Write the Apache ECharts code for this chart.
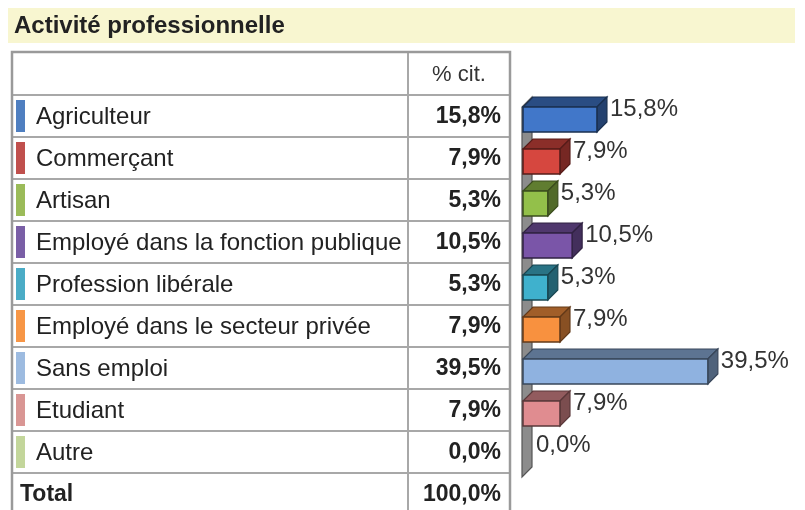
<!DOCTYPE html>
<html>
<head>
<meta charset="utf-8">
<script src="https://cdn.jsdelivr.net/npm/echarts@6/dist/echarts.min.js"></script>
<style>
  html, body { margin: 0; padding: 0; background: #ffffff; }
  #chart { width: 805px; height: 510px; }
</style>
</head>
<body>
<div id="chart"></div>
<script>
// Survey answers: professional activity, share of citations (%)
const title = 'Activité professionnelle';
const columnHeader = '% cit.';
const totalLabel = 'Total';
const categories = [
  'Agriculteur',
  'Commerçant',
  'Artisan',
  'Employé dans la fonction publique',
  'Profession libérale',
  'Employé dans le secteur privée',
  'Sans emploi',
  'Etudiant',
  'Autre'
];
const values = [15.8, 7.9, 5.3, 10.5, 5.3, 7.9, 39.5, 7.9, 0.0];
const total = 100.0;
const markerColors = ['#4f7fc0', '#c0504d', '#9bbb59', '#7a5fa6', '#4bacc6', '#f79646', '#9dbbe0', '#d99694', '#c3d69b'];
const barColors = ['#4177c9', '#d6473f', '#93c04a', '#7a55a8', '#3fb1cd', '#f8913f', '#8fb2e0', '#e08c90', '#c3d69b'];

const FONT = '"Liberation Sans", Arial, sans-serif';
const fmt = v => v.toFixed(1).replace('.', ',') + '%';

// layout of the table and plot area
const tableLeft = 12, tableRight = 510, colSplit = 408;
const headerTop = 52, rowsTop = 95, rowH = 42;
const plotLeft = 523, pxPerUnit = 4.68, axisMax = 40;

function shade(hex, amt) {
  const n = parseInt(hex.slice(1), 16);
  let r = (n >> 16) & 255, g = (n >> 8) & 255, b = n & 255;
  const f = c => Math.max(0, Math.min(255, Math.round(amt < 0 ? c * (1 + amt) : c + (255 - c) * amt)));
  return 'rgb(' + f(r) + ',' + f(g) + ',' + f(b) + ')';
}

// static table drawn with graphic elements
const graphics = [];
graphics.push({ type: 'rect', shape: { x: 8, y: 8, width: 787, height: 35 }, style: { fill: '#f8f6d0' }, z: 1 });
graphics.push({ type: 'text', x: 14, y: 26, style: { text: title, font: 'bold 24px ' + FONT, fill: '#222', textVerticalAlign: 'middle' }, z: 2 });

const nRows = categories.length + 1;
const tableBottom = rowsTop + rowH * nRows;
// row separators
for (let i = 0; i < nRows; i++) {
  const y = rowsTop + rowH * i;
  graphics.push({ type: 'line', shape: { x1: tableLeft, y1: y, x2: tableRight, y2: y }, style: { stroke: '#a8a8a8', lineWidth: 2 }, z: 2 });
}
// column separator
graphics.push({ type: 'line', shape: { x1: colSplit, y1: headerTop, x2: colSplit, y2: tableBottom }, style: { stroke: '#a8a8a8', lineWidth: 2 }, z: 2 });
// outer frame
graphics.push({ type: 'rect', shape: { x: tableLeft, y: headerTop, width: tableRight - tableLeft, height: tableBottom - headerTop }, style: { fill: 'none', stroke: '#9a9a9a', lineWidth: 2.5 }, z: 3 });
// header
graphics.push({ type: 'text', x: (colSplit + tableRight) / 2, y: headerTop + (rowsTop - headerTop) / 2 + 1, style: { text: columnHeader, font: '22px ' + FONT, fill: '#333', textAlign: 'center', textVerticalAlign: 'middle' }, z: 4 });

categories.forEach((name, i) => {
  const cy = rowsTop + rowH * i + rowH / 2;
  graphics.push({ type: 'rect', shape: { x: 16, y: cy - 16, width: 9, height: 32 }, style: { fill: markerColors[i] }, z: 4 });
  graphics.push({ type: 'text', x: 36, y: cy + 1, style: { text: name, font: '24px ' + FONT, fill: '#222', textVerticalAlign: 'middle' }, z: 4 });
  graphics.push({ type: 'text', x: 501, y: cy + 1, style: { text: fmt(values[i]), font: 'bold 23px ' + FONT, fill: '#222', textAlign: 'right', textVerticalAlign: 'middle' }, z: 4 });
});
const totalY = rowsTop + rowH * categories.length + rowH / 2;
graphics.push({ type: 'text', x: 20, y: totalY + 1, style: { text: totalLabel, font: 'bold 23px ' + FONT, fill: '#222', textVerticalAlign: 'middle' }, z: 4 });
graphics.push({ type: 'text', x: 501, y: totalY + 1, style: { text: fmt(total), font: 'bold 23px ' + FONT, fill: '#222', textAlign: 'right', textVerticalAlign: 'middle' }, z: 4 });

// 3D-looking horizontal bars
const DEPTH = 10;
function renderBar(params, api) {
  const idx = api.value(1);
  const v = api.value(0);
  const o = api.coord([0, idx]);
  const e = api.coord([v, idx]);
  const band = api.size([0, 1])[1];
  const yc = o[1];
  const yt = yc - 9, yb = yc + 16;
  const base = barColors[idx];
  const children = [];

  if (params.dataIndex === 0) {
    // left wall running along the category axis
    const first = api.coord([0, 0]);
    const last = api.coord([0, categories.length - 1]);
    const wTop = first[1] - band / 2 + 12;
    const wBot = last[1] + band / 2 + 4;
    children.push({
      type: 'polygon',
      shape: { points: [[o[0] - 1, wBot], [o[0] - 1, wTop], [o[0] + DEPTH - 1, wTop - DEPTH], [o[0] + DEPTH - 1, wBot - DEPTH]] },
      style: { fill: '#8c8c8c', stroke: '#555', lineWidth: 1.2 }
    });
  }
  if (e[0] - o[0] > 0.5) {
    const stroke = shade(base, -0.6);
    children.push({
      type: 'polygon',
      shape: { points: [[o[0], yt], [o[0] + DEPTH, yt - DEPTH], [e[0] + DEPTH, yt - DEPTH], [e[0], yt]] },
      style: { fill: shade(base, -0.35), stroke: stroke, lineWidth: 1.2 }
    });
    children.push({
      type: 'polygon',
      shape: { points: [[e[0], yt], [e[0] + DEPTH, yt - DEPTH], [e[0] + DEPTH, yb - DEPTH], [e[0], yb]] },
      style: { fill: shade(base, -0.45), stroke: stroke, lineWidth: 1.2 }
    });
    children.push({
      type: 'rect',
      shape: { x: o[0], y: yt, width: e[0] - o[0], height: yb - yt },
      style: { fill: base, stroke: stroke, lineWidth: 1.5 }
    });
  }
  children.push({
    type: 'text',
    x: e[0] + DEPTH + 3,
    y: yc - 7,
    style: { text: fmt(v), font: '24px ' + FONT, fill: '#333', textVerticalAlign: 'middle' }
  });
  return { type: 'group', children: children };
}

const chart = echarts.init(document.getElementById('chart'), null, { renderer: 'canvas' });
chart.setOption({
  backgroundColor: '#ffffff',
  animation: false,
  grid: { left: plotLeft, top: rowsTop, width: pxPerUnit * axisMax, height: rowH * categories.length },
  xAxis: { type: 'value', min: 0, max: axisMax, show: false },
  yAxis: { type: 'category', data: categories, inverse: true, show: false },
  graphic: graphics,
  series: [{
    type: 'custom',
    renderItem: renderBar,
    clip: false,
    z: 5,
    encode: { x: 0, y: 1 },
    data: values.map((v, i) => [v, i])
  }]
});
</script>
</body>
</html>
